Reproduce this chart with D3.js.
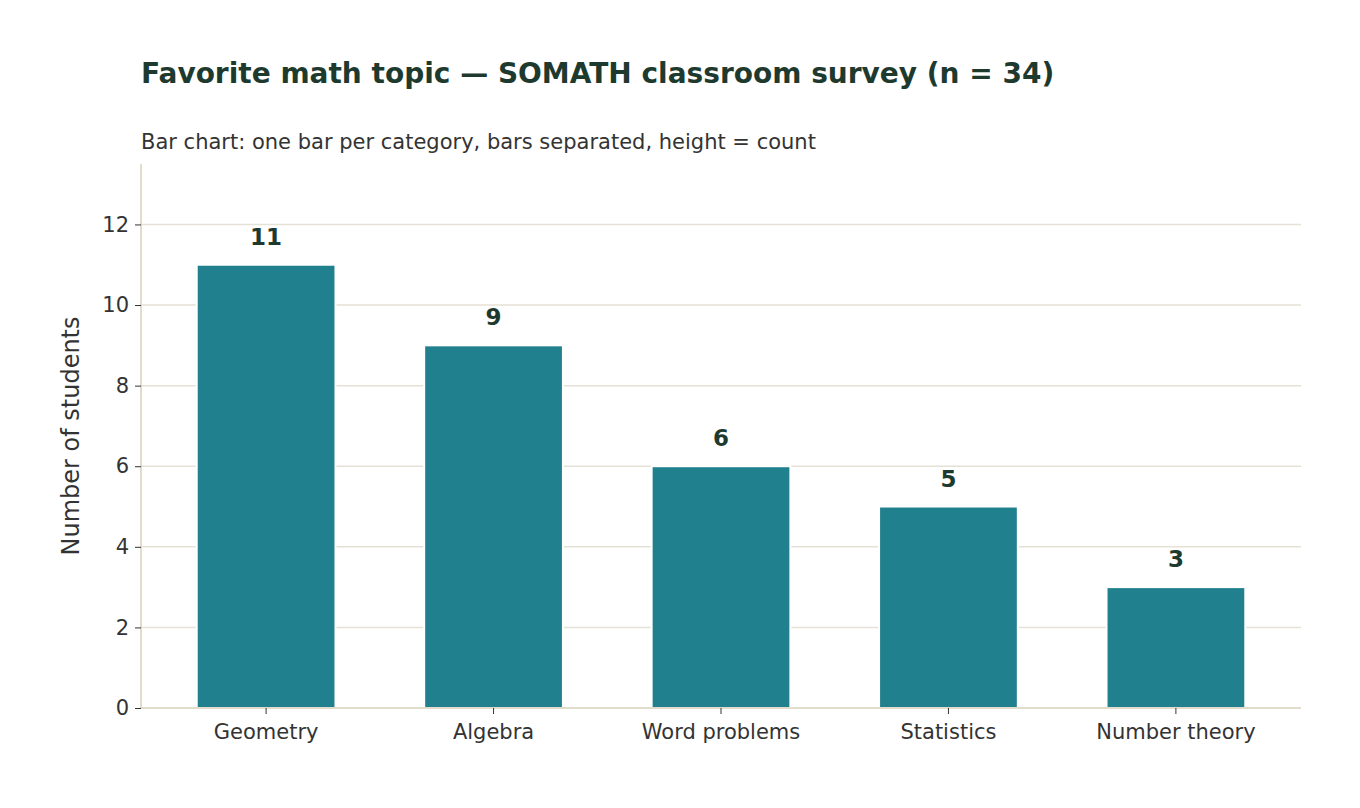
<!DOCTYPE html>
<html>
<head>
<meta charset="utf-8">
<script src="https://cdn.jsdelivr.net/npm/d3@7"></script>
<style>
  body { margin: 0; background: #fff; font-family: "DejaVu Sans", sans-serif; }
</style>
</head>
<body>
<svg id="chart" width="1360" height="808"></svg>
<script>
const topics = ['Geometry', 'Algebra', 'Word problems', 'Statistics', 'Number theory'];
const counts = [11, 9, 6, 5, 3];
const yTicks = [0, 2, 4, 6, 8, 10, 12];

const margin = { left: 141, right: 59, top: 164, bottom: 100 };
const width = 1360 - margin.left - margin.right;
const height = 808 - margin.top - margin.bottom;

const svg = d3.select('#chart');

svg.append('text')
    .attr('x', margin.left).attr('y', 83)
    .attr('font-size', 28).attr('font-weight', 'bold').attr('fill', '#1e3a2f')
    .text('Favorite math topic — SOMATH classroom survey (n = 34)');

svg.append('text')
    .attr('x', margin.left).attr('y', 149)
    .attr('font-size', 21).attr('fill', '#333')
    .text('Bar chart: one bar per category, bars separated, height = count');

const g = svg.append('g').attr('transform', `translate(${margin.left},${margin.top})`);

const y = d3.scaleLinear().domain([0, 13.5]).range([height, 0]);
const x = d3.scaleBand().domain(topics).range([0, width]).paddingInner(0.39).paddingOuter(0.245);

// grid
g.selectAll('.grid').data(yTicks.slice(1)).enter().append('line')
    .attr('x1', 0).attr('x2', width)
    .attr('y1', d => y(d)).attr('y2', d => y(d))
    .attr('stroke', '#e6e1d6').attr('stroke-width', 1.5);

// bars
g.selectAll('rect').data(counts).enter().append('rect')
    .attr('x', (d, i) => x(topics[i]))
    .attr('y', d => y(d))
    .attr('width', x.bandwidth())
    .attr('height', d => y(0) - y(d))
    .attr('fill', '#21808d')
    .attr('stroke', '#fff').attr('stroke-width', 2);

g.selectAll('.val').data(counts).enter().append('text')
    .attr('x', (d, i) => x(topics[i]) + x.bandwidth() / 2)
    .attr('y', d => y(d) - 20)
    .attr('text-anchor', 'middle')
    .attr('font-size', 23).attr('font-weight', 'bold').attr('fill', '#1e3a2f')
    .text(d => d);

// axes
const yAxis = g.append('g').call(d3.axisLeft(y).tickValues(yTicks).tickSize(6).tickPadding(6));
const xAxis = g.append('g').attr('transform', `translate(0,${height})`)
    .call(d3.axisBottom(x).tickSize(6).tickPadding(10));

[yAxis, xAxis].forEach(a => {
    a.select('.domain').attr('stroke', '#d9d0bd').attr('stroke-width', 1.5);
    a.selectAll('.tick line').attr('stroke', '#333');
    a.selectAll('.tick text').attr('font-size', 21).attr('fill', '#333')
        .attr('font-family', '"DejaVu Sans", sans-serif');
});
// remove end tick caps of the domain
yAxis.select('.domain').attr('d', `M0,${height}V0`);
xAxis.select('.domain').attr('d', `M0,0H${width}`);

svg.append('text')
    .attr('transform', 'rotate(-90)')
    .attr('x', -(margin.top + height / 2)).attr('y', 79)
    .attr('text-anchor', 'middle')
    .attr('font-size', 24).attr('fill', '#333')
    .text('Number of students');
</script>
</body>
</html>
